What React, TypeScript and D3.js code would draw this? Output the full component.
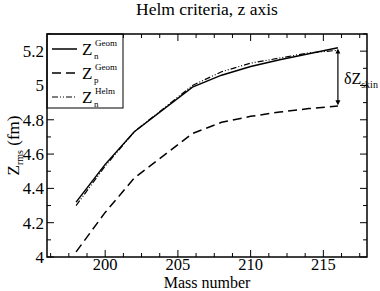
import React from 'react'
import * as d3 from 'd3'

const massNumbers = [198, 200, 202, 206, 208, 210, 212, 214, 216]
const znGeom = [4.32, 4.54, 4.73, 4.99, 5.06, 5.11, 5.15, 5.185, 5.22]
const zpGeom = [4.03, 4.26, 4.46, 4.72, 4.785, 4.82, 4.845, 4.865, 4.88]
const znHelm = [4.30, 4.53, 4.73, 5.0, 5.08, 5.13, 5.16, 5.19, 5.205]

const xTicks = [200, 205, 210, 215]
const yTicks = [4, 4.2, 4.4, 4.6, 4.8, 5, 5.2]

const W = 380
const H = 291
const margin = { top: 34, right: 13, bottom: 34, left: 47 }
const font = "'Liberation Serif', 'Times New Roman', 'DejaVu Serif', serif"

const App = () => {
  const x = d3.scaleLinear().domain([196, 218]).range([margin.left, W - margin.right])
  const y = d3.scaleLinear().domain([4, 5.3]).range([H - margin.bottom, margin.top])
  const x0 = x.range()[0], x1 = x.range()[1]
  const y0 = y.range()[0], y1 = y.range()[1]

  const line = (vals: number[]) =>
    d3.line<number>().x((_, i) => x(massNumbers[i])).y(d => y(d))(vals) || ''

  const xMinor = d3.range(196.25, 218, 1.25)
  const yMinor = d3.range(4.1, 5.3, 0.2)

  const series = [
    { name: 'n', sup: 'Geom', vals: znGeom, dash: 'none' },
    { name: 'p', sup: 'Geom', vals: zpGeom, dash: '9,5' },
    { name: 'n', sup: 'Helm', vals: znHelm, dash: '6,2,1,2,1,2' },
  ]

  const ax = x(216)
  const aTop = y(5.215)
  const aBot = y(4.885)

  return (
    <svg width={W} height={H} style={{ position: 'absolute', left: 0, top: 0, fontFamily: font }}>
      <rect width={W} height={H} fill="white" />
      <text x={(x0 + x1) / 2} y={15} textAnchor="middle" fontSize={17.5}>Helm criteria, z axis</text>

      {/* ticks, inward, on all four sides */}
      {xTicks.map(t => (
        <g key={'xt' + t}>
          <line x1={x(t)} x2={x(t)} y1={y0} y2={y0 - 7} stroke="black" />
          <line x1={x(t)} x2={x(t)} y1={y1} y2={y1 + 7} stroke="black" />
          <text x={x(t)} y={y0 + 13} textAnchor="middle" fontSize={16.5}>{t}</text>
        </g>
      ))}
      {xMinor.filter(t => !xTicks.includes(t)).map(t => (
        <g key={'xm' + t}>
          <line x1={x(t)} x2={x(t)} y1={y0} y2={y0 - 4} stroke="black" />
          <line x1={x(t)} x2={x(t)} y1={y1} y2={y1 + 4} stroke="black" />
        </g>
      ))}
      {yTicks.map(t => (
        <g key={'yt' + t}>
          <line x1={x0} x2={x0 + 7} y1={y(t)} y2={y(t)} stroke="black" />
          <line x1={x1} x2={x1 - 7} y1={y(t)} y2={y(t)} stroke="black" />
          <text x={x0 - 3} y={y(t) + 6} textAnchor="end" fontSize={17}>{t}</text>
        </g>
      ))}
      {yMinor.map(t => (
        <g key={'ym' + t}>
          <line x1={x0} x2={x0 + 4} y1={y(t)} y2={y(t)} stroke="black" />
          <line x1={x1} x2={x1 - 4} y1={y(t)} y2={y(t)} stroke="black" />
        </g>
      ))}

      {series.map((s, i) => (
        <path key={'s' + i} d={line(s.vals)} fill="none" stroke="black"
          strokeWidth={i === 2 ? 1.2 : 1.5} strokeDasharray={s.dash} />
      ))}

      {/* skin arrow */}
      <line x1={ax} x2={ax} y1={aTop + 4} y2={aBot - 4} stroke="black" strokeWidth={1.2} />
      <path d={`M${ax},${aTop} l-2.5,5 h5 z`} fill="black" />
      <path d={`M${ax},${aBot} l-2.5,-5 h5 z`} fill="black" />
      <text x={ax + 6} y={y(5.04) + 5} fontSize={16}>δZ
        <tspan fontSize={10} dy={4}>skin</tspan>
      </text>

      {/* legend */}
      <rect x={x0} y={y1} width={76} height={74} fill="white" stroke="black" strokeWidth={1} />
      {series.map((s, i) => {
        const ly = y1 + 15 + i * 24
        return (
          <g key={'lg' + i}>
            <line x1={x0 + 5} x2={x0 + 30} y1={ly} y2={ly} stroke="black"
              strokeWidth={i === 2 ? 1.2 : 1.5} strokeDasharray={s.dash} />
            <text x={x0 + 35} y={ly + 6} fontSize={17}>Z</text>
            <text x={x0 + 47} y={ly + 10} fontSize={9}>{s.name}</text>
            <text x={x0 + 48} y={ly - 3} fontSize={9}>{s.sup}</text>
          </g>
        )
      })}

      <rect x={x0} y={y1} width={x1 - x0} height={y0 - y1} fill="none" stroke="black" strokeWidth={1.5} />

      <text x={(x0 + x1) / 2} y={288} textAnchor="middle" fontSize={16}>Mass number</text>
      <text transform={`translate(19,${(y0 + y1) / 2}) rotate(-90)`} textAnchor="middle" fontSize={17}>
        Z<tspan fontSize={10} dy={4}>rms</tspan><tspan dy={-4}> (fm)</tspan>
      </text>
    </svg>
  )
}

export default App
